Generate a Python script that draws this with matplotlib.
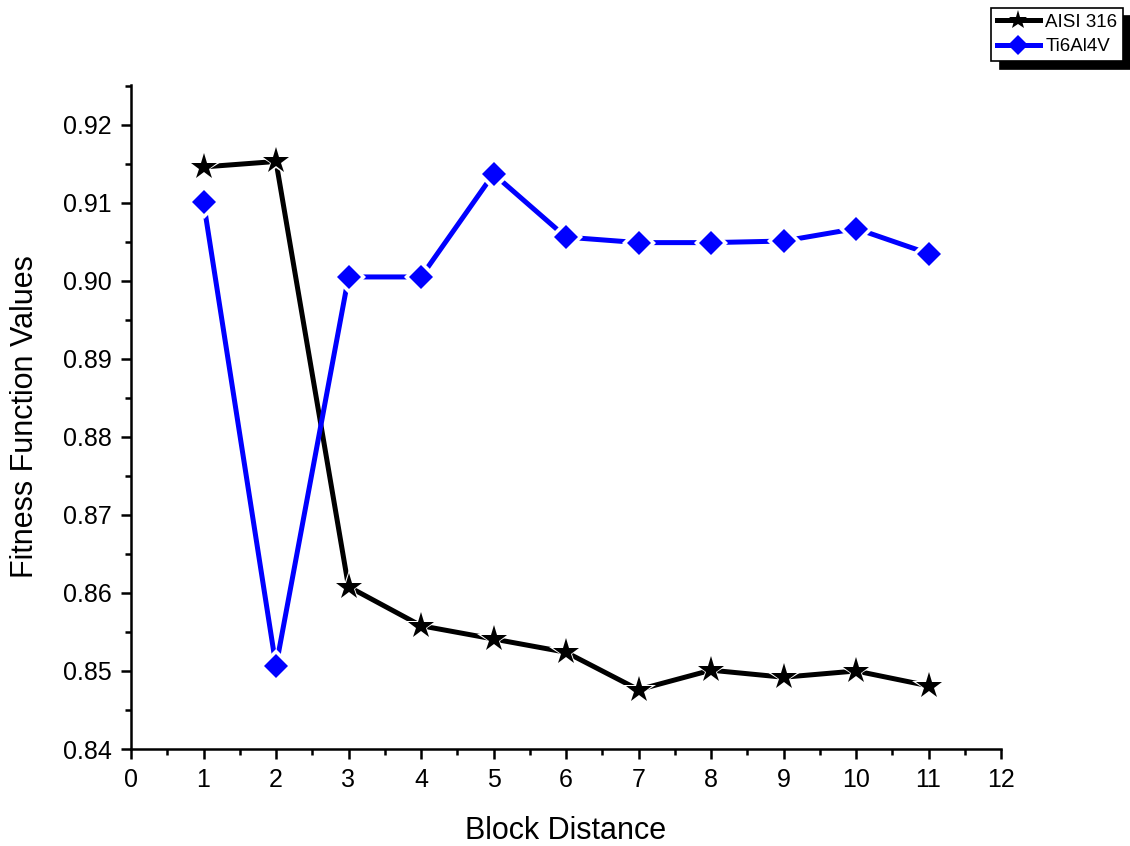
import numpy as np
import matplotlib.pyplot as plt
from matplotlib.lines import Line2D
from matplotlib.ticker import MultipleLocator

plt.rcParams['font.family'] = ['Liberation Sans', 'DejaVu Sans']

# block distance and fitness values for the two alloys
block = [1, 2, 3, 4, 5, 6, 7, 8, 9, 10, 11]
aisi316 = [0.9146, 0.9153, 0.8608, 0.8558, 0.8541, 0.8524, 0.8476, 0.8501, 0.8492, 0.8500, 0.8481]
ti6al4v = [0.9101, 0.8506, 0.9005, 0.9005, 0.9137, 0.9056, 0.9049, 0.9049, 0.9051, 0.9067, 0.9035]

fig = plt.figure(figsize=(11.3, 8.46), dpi=100)
ax = fig.add_axes([131/1130, 1 - 749/846, 870/1130, (749 - 85)/846])


def series(y, color, marker, ms):
    # line, then a white halo so the line stops short of each symbol, then the symbol
    ax.plot(block, y, color=color, lw=3.6, zorder=2, solid_capstyle='butt')
    ax.plot(block, y, ls='none', marker=marker, ms=ms + 5, color='white', mew=0, zorder=3)
    ax.plot(block, y, ls='none', marker=marker, ms=ms, color=color, mew=0, zorder=4)


series(aisi316, 'black', '*', 20)
series(ti6al4v, 'blue', 'D', 12)

ax.set_xlim(0, 12)
ax.set_ylim(0.84, 0.9251)
ax.xaxis.set_major_locator(MultipleLocator(1))
ax.xaxis.set_minor_locator(MultipleLocator(0.5))
ax.yaxis.set_major_locator(MultipleLocator(0.01))
ax.yaxis.set_minor_locator(MultipleLocator(0.005))
ax.yaxis.set_major_formatter(plt.FormatStrFormatter('%.2f'))

for s in ['top', 'right']:
    ax.spines[s].set_visible(False)
for s in ['left', 'bottom']:
    ax.spines[s].set_linewidth(1.8)
ax.tick_params(which='major', direction='out', length=7, width=1.8, labelsize=18, pad=7)
ax.tick_params(which='minor', direction='out', length=4, width=1.8)

ax.set_xlabel('Block Distance', fontsize=22, labelpad=17)
ax.set_ylabel('Fitness Function Values', fontsize=22, labelpad=16)

handles = [Line2D([], [], color='black', lw=3.6, marker='*', ms=14, mew=0),
           Line2D([], [], color='blue', lw=3.6, marker='D', ms=10, mew=0)]
leg = ax.legend(handles, ['AISI 316', 'Ti6Al4V'], loc='upper right',
                bbox_to_anchor=(1123/1130, 1 - 8/846),
                bbox_transform=fig.transFigure, fontsize=13.5, fancybox=False,
                edgecolor='black', framealpha=1, borderpad=0.3, labelspacing=0.4,
                handlelength=2.3, handletextpad=0.3, borderaxespad=0,
                shadow={'color': 'black', 'alpha': 1, 'ox': 6.5, 'oy': -6})
leg.get_frame().set_linewidth(1.2)

fig.savefig('out.png', dpi=100)
